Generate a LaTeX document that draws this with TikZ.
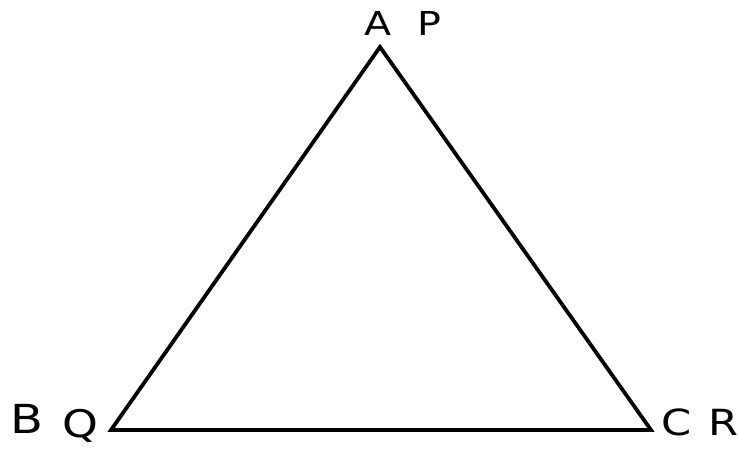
\documentclass[tikz,border=0pt]{standalone}
\usepackage{fontspec}
\setmainfont{DejaVu Sans}
\usepackage{tikz}
\usetikzlibrary{positioning}

\begin{document}
\begin{tikzpicture}[
    x=1pt, y=-1pt,
    edge/.style={draw=black, line width=3.8pt},
    vlabel/.style={inner sep=0pt, anchor=base, xscale=1.2, transform shape,
                   font=\fontsize{#1}{#1}\selectfont},
    vlabel/.default=32,
]
    \useasboundingbox (0,0) rectangle (739,448);

    % Vertices
    \coordinate (A) at (380,47);
    \coordinate (B) at (111,430);
    \coordinate (C) at (651,430);

    % Triangle
    \draw[edge] (A) -- (B) -- (C) -- cycle;

    % Labels
    \node[vlabel=33] (lA) at (378,35) {A};
    \node[vlabel=33] (lP) at (429,35) {P};
    \node[vlabel=40] (lB) at (27,433) {B};
    \node[vlabel=38] (lQ) at (80,437) {Q};
    \node[vlabel=36] (lC) at (677,435) {C};
    \node[vlabel=36] (lR) at (723,435) {R};
\end{tikzpicture}
\end{document}
